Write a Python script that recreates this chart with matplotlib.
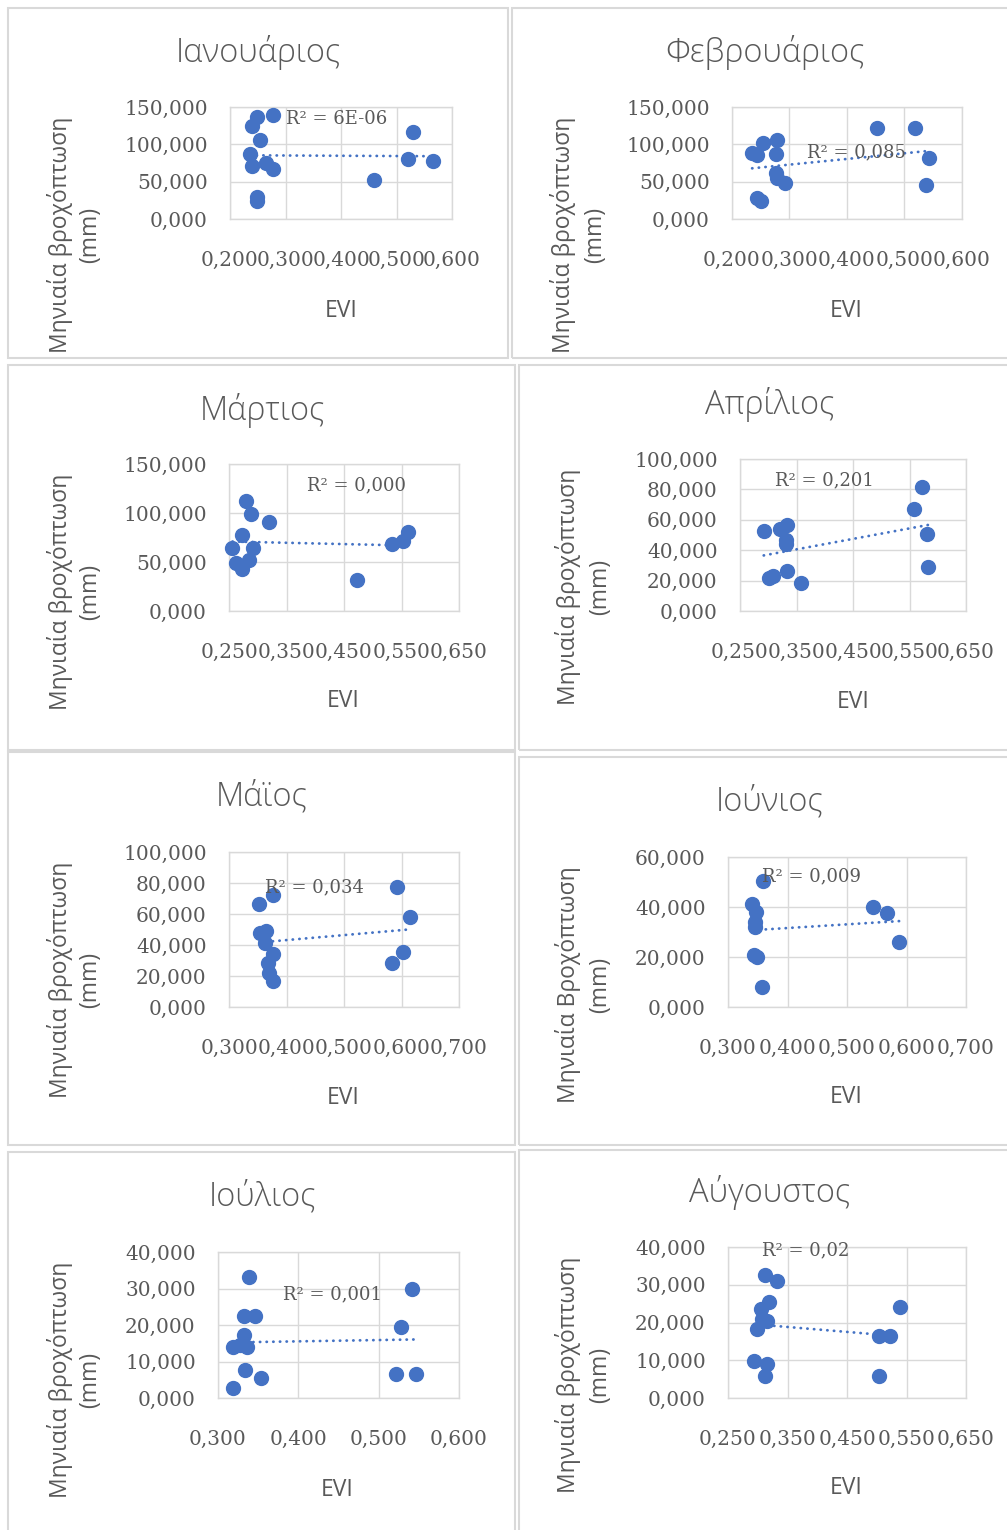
import numpy as np
import matplotlib.pyplot as plt
from matplotlib.patches import Rectangle

# monthly EVI vs monthly rainfall (mm)
jan_evi = [0.248, 0.277, 0.240, 0.254, 0.236, 0.240, 0.264, 0.277, 0.248, 0.248, 0.459, 0.530, 0.521, 0.565]
jan_rain = [137.0, 139.3, 125.0, 105.8, 87.0, 71.4, 75.4, 67.0, 29.9, 24.6, 51.8, 117.0, 80.8, 77.2]

feb_evi = [0.235, 0.244, 0.254, 0.278, 0.276, 0.276, 0.278, 0.292, 0.244, 0.250, 0.453, 0.519, 0.543, 0.538]
feb_rain = [88.8, 85.7, 101.3, 105.8, 86.6, 61.2, 54.5, 48.6, 28.5, 24.1, 122.3, 122.3, 81.3, 45.1]

mar_evi = [0.256, 0.262, 0.273, 0.284, 0.273, 0.279, 0.288, 0.291, 0.320, 0.473, 0.534, 0.553, 0.562]
mar_rain = [64.0, 49.3, 42.5, 52.0, 77.6, 112.6, 99.0, 64.0, 90.5, 31.6, 68.4, 71.8, 80.3]

apr_evi = [0.292, 0.321, 0.334, 0.331, 0.331, 0.301, 0.309, 0.333, 0.358, 0.558, 0.573, 0.581, 0.583]
apr_rain = [52.8, 54.0, 56.6, 46.7, 44.1, 21.5, 23.2, 26.5, 18.6, 66.9, 81.8, 50.5, 29.2]

may_evi = [0.353, 0.376, 0.354, 0.364, 0.362, 0.376, 0.368, 0.370, 0.376, 0.592, 0.614, 0.603, 0.584]
may_rain = [66.5, 72.3, 47.5, 49.0, 41.1, 34.2, 28.2, 21.7, 16.8, 77.2, 58.3, 35.7, 28.6]

jun_evi = [0.358, 0.341, 0.347, 0.345, 0.345, 0.343, 0.349, 0.357, 0.544, 0.567, 0.588]
jun_rain = [50.5, 41.2, 38.1, 34.1, 32.1, 20.8, 19.9, 8.1, 40.1, 37.7, 26.1]

jul_evi = [0.338, 0.332, 0.346, 0.332, 0.319, 0.327, 0.336, 0.334, 0.354, 0.319, 0.542, 0.528, 0.522, 0.546]
jul_rain = [33.2, 22.5, 22.5, 17.3, 14.1, 14.5, 13.9, 7.7, 5.6, 2.8, 29.9, 19.5, 6.7, 6.7]

aug_evi = [0.312, 0.333, 0.319, 0.305, 0.315, 0.298, 0.294, 0.316, 0.312, 0.307, 0.503, 0.522, 0.539, 0.503]
aug_rain = [32.6, 31.0, 25.4, 23.6, 20.5, 18.2, 9.8, 9.0, 5.8, 21.0, 16.4, 16.4, 24.2, 5.9]

titles = ["Ιανουάριος", "Φεβρουάριος", "Μάρτιος", "Απρίλιος",
          "Μάϊος", "Ιούνιος", "Ιούλιος", "Αύγουστος"]
r2_labels = ["R² = 6E-06", "R² = 0,085", "R² = 0,000", "R² = 0,201",
             "R² = 0,034", "R² = 0,009", "R² = 0,001", "R² = 0,02"]
x_ticks = [
    [0.2, 0.3, 0.4, 0.5, 0.6], [0.2, 0.3, 0.4, 0.5, 0.6],
    [0.25, 0.35, 0.45, 0.55, 0.65], [0.25, 0.35, 0.45, 0.55, 0.65],
    [0.3, 0.4, 0.5, 0.6, 0.7], [0.3, 0.4, 0.5, 0.6, 0.7],
    [0.3, 0.4, 0.5, 0.6], [0.25, 0.35, 0.45, 0.55, 0.65],
]
y_ticks = [
    [0, 50, 100, 150], [0, 50, 100, 150], [0, 50, 100, 150],
    [0, 20, 40, 60, 80, 100], [0, 20, 40, 60, 80, 100],
    [0, 20, 40, 60], [0, 10, 20, 30, 40], [0, 10, 20, 30, 40],
]
y_labels = ["Μηνιαία βροχόπτωση"] * 5 + ["Μηνιαία Βροχόπτωση"] + ["Μηνιαία βροχόπτωση"] * 2

evis = [jan_evi, feb_evi, mar_evi, apr_evi, may_evi, jun_evi, jul_evi, aug_evi]
rains = [jan_rain, feb_rain, mar_rain, apr_rain, may_rain, jun_rain, jul_rain, aug_rain]

# layout in pixels of the 1007x1530 picture
boxes = [(8, 8, 508, 358), (512, 8, 1010, 358), (8, 365, 515, 750), (519, 365, 1010, 750),
         (8, 752, 515, 1145), (519, 757, 1010, 1145), (8, 1152, 515, 1532), (519, 1150, 1010, 1532)]
plots = [(230, 107, 452, 219), (732, 107, 962, 219), (229, 464, 459, 611), (740, 459, 966, 611),
         (229, 852, 459, 1007), (728, 857, 966, 1007), (218, 1252, 459, 1398), (728, 1247, 966, 1398)]
title_pos = [(258, 52), (765, 52), (262, 410), (770, 405), (262, 797), (770, 802), (262, 1197), (770, 1193)]
ylab_pos = [(60, 90, 235), (563, 595, 235), (60, 90, 592), (568, 600, 587),
            (60, 90, 980), (568, 600, 985), (60, 90, 1380), (568, 600, 1375)]
evi_pos = [(341, 311), (846, 311), (343, 701), (853, 702), (343, 1098), (846, 1097), (337, 1490), (846, 1488)]
r2_pos = [(286, 119), (807, 152), (307, 485), (775, 480), (265, 887), (762, 876), (283, 1294), (762, 1250)]

W, H = 1007, 1530
BLUE = '#4472C4'
GRID = '#D9D9D9'
TXT = '#595959'
SANS = ['Open Sans', 'DejaVu Sans']
SERIF = ['DejaVu Serif']

fig = plt.figure(figsize=(W / 100, H / 100), dpi=100)


def fx(x):
    return x / W


def fy(y):
    return 1 - y / H


def comma(v, nd=3):
    return f"{v:.{nd}f}".replace('.', ',')


for i in range(8):
    bx0, by0, bx1, by1 = boxes[i]
    fig.patches.append(Rectangle((fx(bx0), fy(by1)), fx(bx1 - bx0), (by1 - by0) / H,
                                 transform=fig.transFigure, fill=False,
                                 edgecolor=GRID, lw=1.5))

    x0, y0, x1, y1 = plots[i]
    ax = fig.add_axes([fx(x0), fy(y1), fx(x1 - x0), (y1 - y0) / H])
    xt, yt = x_ticks[i], y_ticks[i]
    ax.set_xlim(xt[0], xt[-1])
    ax.set_ylim(yt[0], yt[-1])
    ax.set_xticks(xt)
    ax.set_yticks(yt)
    ax.set_xticklabels([comma(v) for v in xt], family=SERIF, fontsize=14.5, color=TXT)
    ax.set_yticklabels([comma(v) for v in yt], family=SERIF, fontsize=14.5, color=TXT)
    ax.tick_params(length=0)
    ax.tick_params(axis='x', pad=23)
    ax.tick_params(axis='y', pad=16)
    ax.grid(True, color=GRID, lw=1)
    ax.set_axisbelow(True)
    for sp in ax.spines.values():
        sp.set_color(GRID)
        sp.set_linewidth(1)

    ev = np.array(evis[i])
    rn = np.array(rains[i])
    k, b = np.polyfit(ev, rn, 1)
    xs = np.array([ev.min(), ev.max()])
    ax.plot(xs, k * xs + b, color=BLUE, lw=2, linestyle=(0, (0.1, 2.3)),
            dash_capstyle='round', zorder=2)
    ax.scatter(ev, rn, s=100, color=BLUE, zorder=3, clip_on=False)

    tx, ty = title_pos[i]
    fig.text(fx(tx), fy(ty), titles[i], family=SANS, fontsize=23.5, color=TXT,
             weight='light', ha='center', va='center')
    lx1, lx2, ly = ylab_pos[i]
    fig.text(fx(lx1), fy(ly), y_labels[i], family=SANS, fontsize=16.5, color=TXT,
             rotation=90, ha='center', va='center')
    fig.text(fx(lx2), fy(ly), "(mm)", family=SANS, fontsize=16.5, color=TXT,
             rotation=90, ha='center', va='center')
    ex, ey = evi_pos[i]
    fig.text(fx(ex), fy(ey), "EVI", family=SANS, fontsize=16.5, color=TXT,
             ha='center', va='center')
    rx, ry = r2_pos[i]
    fig.text(fx(rx), fy(ry), r2_labels[i], family=SERIF, fontsize=13, color=TXT,
             ha='left', va='center', zorder=5)

fig.savefig("out.png", dpi=100, facecolor='white')
